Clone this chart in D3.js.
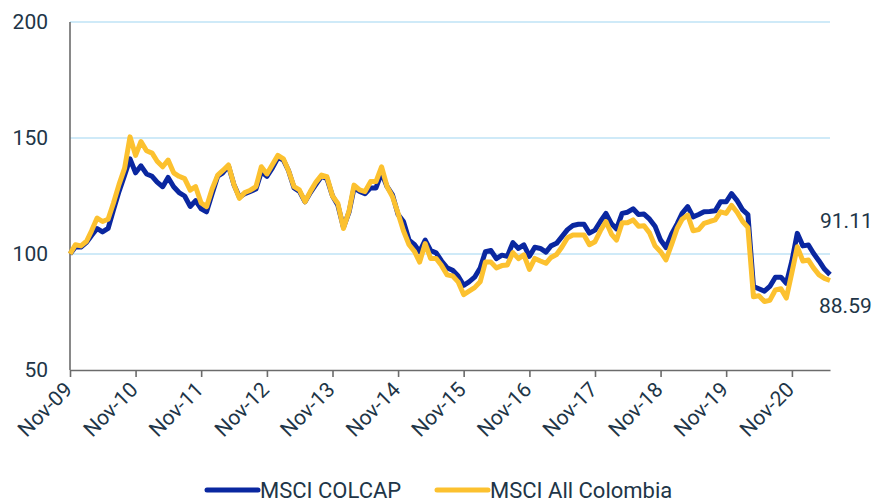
<!DOCTYPE html>
<html>
<head>
<meta charset="utf-8">
<script src="https://cdn.jsdelivr.net/npm/d3@7"></script>
<style>
  body { margin: 0; background: #fff; }
  svg text { font-family: Roboto, "Open Sans", sans-serif; fill: #213547; }
</style>
</head>
<body>
<svg id="chart"></svg>
<script>
// monthly index levels, Nov-09 = 100
var startMonth = "2009-11";
var colcap = [
  100, 103, 103, 105, 108, 111, 109.5, 111, 119, 127,
  134, 141, 135, 138, 134.5, 133.5, 131, 129, 133, 129,
  126.5, 125, 120.5, 123, 119.5, 118.2, 126, 133.5, 135, 138,
  130, 124.5, 126, 127, 128, 135.5, 133.5, 137, 141.5, 140.5,
  136, 128.5, 127, 122.5, 126.5, 130, 133.5, 132.5, 125, 121,
  111.5, 118, 128.5, 127, 126, 128.5, 128.5, 135, 129, 125.5,
  117, 114, 106, 104, 101, 106, 101.5, 100.5, 97, 94,
  93, 90.5, 86.5, 88, 90, 94, 101, 101.5, 98, 99.5,
  99, 104.9, 102.4, 103.9, 99, 102.9, 102.4, 100.8, 103.5, 104.6,
  107.5, 110.5, 112.3, 112.8, 112.8, 109, 110.3, 114, 117.5, 113,
  110.8, 117.5, 118, 119.5, 117, 117.2, 115, 112, 106, 102.8,
  108.5, 113, 117.5, 120.4, 116, 117, 118.2, 118.3, 118.6, 122.5,
  122.5, 126, 123, 119, 117, 86, 85, 84, 86, 90,
  90, 87.4, 97, 108.9, 103.5, 103.9, 100.3, 97, 93.5, 91.11
];
var allColombia = [
  100, 104, 103.5, 105.5, 110, 115.5, 114, 115, 122, 130,
  137, 150.5, 142.5, 148.5, 144.5, 143.5, 140, 137.6, 140.5, 135,
  133.5, 132.5, 127.5, 129, 122, 120.4, 128, 134, 136, 138.4,
  130, 124, 126.5, 127.5, 129, 137.6, 134.5, 138.5, 142.5, 141,
  136, 129, 127.6, 122.5, 127, 131, 134, 133.3, 125, 121.8,
  111, 118.5, 129.7, 127.6, 126.9, 131.2, 131.2, 137.6, 129, 124.7,
  117.5, 110, 104, 101, 96.5, 104.5, 98.1, 98.1, 95, 91,
  90.5, 88, 82.5, 84, 85.5, 88, 96.5, 96.5, 94, 95,
  95.3, 100.6, 98, 99.6, 93.4, 98.1, 97, 96, 98.5, 99.8,
  103, 107, 108.2, 108.2, 108.2, 104, 105.3, 110, 114, 108.5,
  106, 113.5, 113.5, 114.7, 112, 112.2, 109, 103.5, 101, 97.5,
  104, 111, 115, 116.8, 110, 110.5, 113.2, 114, 114.7, 118.2,
  117.5, 121, 118, 114, 111.5, 81.6, 82, 79.5, 80, 84.5,
  85, 81, 92, 103.1, 97, 97.4, 94, 91, 89.5, 88.59
];
var seriesNames = ["MSCI COLCAP", "MSCI All Colombia"];
var seriesColors = ["#0a27a0", "#fcc12f"];
var yTicks = [50, 100, 150, 200];

var width = 877;
var height = 502;
var margin = { top: 22, right: 47, bottom: 132, left: 70 };

var svg = d3.select("#chart").attr("width", width).attr("height", height);

var parseMonth = d3.timeParse("%Y-%m");
var t0 = parseMonth(startMonth);
var dates = colcap.map(function (d, i) { return d3.timeMonth.offset(t0, i); });

var x = d3.scaleTime()
  .domain([dates[0], dates[dates.length - 1]])
  .range([margin.left, width - margin.right]);
var y = d3.scaleLinear()
  .domain([50, 200])
  .range([height - margin.bottom, margin.top]);

// gridlines
svg.append("g").selectAll("line")
  .data(yTicks.filter(function (d) { return d > 50; }))
  .enter().append("line")
  .attr("x1", margin.left).attr("x2", width - margin.right)
  .attr("y1", function (d) { return y(d); })
  .attr("y2", function (d) { return y(d); })
  .attr("stroke", "#bfe3f6").attr("stroke-width", 1.6);

// y labels
svg.append("g").selectAll("text")
  .data(yTicks)
  .enter().append("text")
  .attr("x", 48).attr("y", function (d) { return y(d); })
  .attr("dy", "0.35em").attr("text-anchor", "end")
  .style("font-size", "21px")
  .text(function (d) { return d; });

// x axis
var novTicks = d3.timeMonth.range(t0, d3.timeMonth.offset(dates[dates.length - 1], 1), 12);
var xAxis = d3.axisBottom(x).tickValues(novTicks).tickFormat(d3.timeFormat("%b-%y"))
  .tickSize(7).tickSizeOuter(0);
var gx = svg.append("g")
  .attr("transform", "translate(0," + y(50) + ")")
  .call(xAxis);
gx.select(".domain").attr("stroke", "#6b6b6b").attr("stroke-width", 1.6);
gx.selectAll(".tick line").attr("stroke", "#6b6b6b").attr("stroke-width", 1.6);
gx.selectAll(".tick text")
  .attr("text-anchor", "end")
  .attr("dy", null).attr("y", 0)
  .attr("transform", "translate(3,21) rotate(-45)")
  .style("font-size", "21px")
  .style("font-family", "Roboto, sans-serif")
  .attr("fill", "#213547");

// y axis line
svg.append("line")
  .attr("x1", margin.left).attr("x2", margin.left)
  .attr("y1", y(200)).attr("y2", y(50))
  .attr("stroke", "#6b6b6b").attr("stroke-width", 1.6);

// lines
var line = d3.line()
  .x(function (d, i) { return x(dates[i]); })
  .y(function (d) { return y(d); });

[colcap, allColombia].forEach(function (s, k) {
  svg.append("path")
    .datum(s)
    .attr("fill", "none")
    .attr("stroke", seriesColors[k])
    .attr("stroke-width", 5)
    .attr("stroke-linejoin", "round")
    .attr("d", line);
});

// end labels
svg.append("text").attr("x", 820).attr("y", 228)
  .style("font-size", "21px").text(d3.format(".2f")(colcap[colcap.length - 1]));
svg.append("text").attr("x", 819).attr("y", 313)
  .style("font-size", "21px").text(d3.format(".2f")(allColombia[allColombia.length - 1]));

// legend
var legendX = [207, 437];
var lg = svg.append("g");
seriesNames.forEach(function (name, k) {
  lg.append("line")
    .attr("x1", legendX[k]).attr("x2", legendX[k] + 51)
    .attr("y1", 490).attr("y2", 490)
    .attr("stroke", seriesColors[k]).attr("stroke-width", 5)
    .attr("stroke-linecap", "round");
  lg.append("text")
    .attr("x", legendX[k] + 53).attr("y", 498)
    .style("font-size", "22px")
    .text(name);
});
</script>
</body>
</html>
